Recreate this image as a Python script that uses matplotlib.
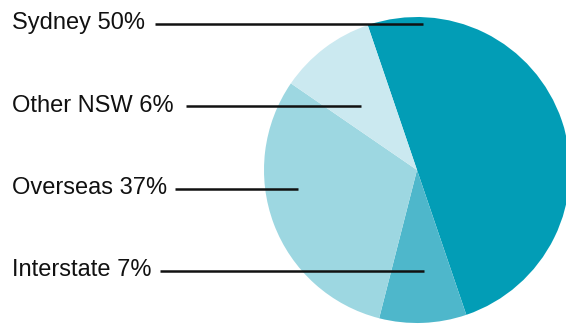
import matplotlib.pyplot as plt

# data
regions = ['Sydney', 'Interstate', 'Overseas', 'Other NSW']
label_pct = [50, 7, 37, 6]           # percentages as printed on the labels
shares = [50, 9.2, 30.6, 10.2]       # slice sizes as drawn
colors = ['#029db6', '#4eb7cb', '#9dd7e1', '#cbe9f0']

# label rows (pixel y of leader line), leader line start / end
label_y = [24, 271, 189, 106]
line_start_x = [155, 160, 175, 186]
line_end_x = [423, 424, 298, 361]

W, H = 566, 324
fig = plt.figure(figsize=(W / 100, H / 100), dpi=100)
ax = fig.add_axes([0, 0, 1, 1])

cx, cy, r = 417, H - 170, 153
ax.pie(shares, colors=colors, startangle=108.8, counterclock=False,
       center=(cx, cy), radius=r, wedgeprops=dict(linewidth=0))
ax.set_xlim(0, W)
ax.set_ylim(0, H)
ax.set_aspect('equal')
ax.axis('off')

for name, pct, y, xs, xe in zip(regions, label_pct, label_y, line_start_x, line_end_x):
    ax.text(12, H - y - 5.5, f'{name} {pct}%', fontsize=17,
            family='Liberation Sans', color='#111111',
            ha='left', va='baseline')
    ax.plot([xs, xe], [H - y, H - y], color='#111111',
            lw=1.8, solid_capstyle='butt')

fig.savefig('out.png', dpi=100)
